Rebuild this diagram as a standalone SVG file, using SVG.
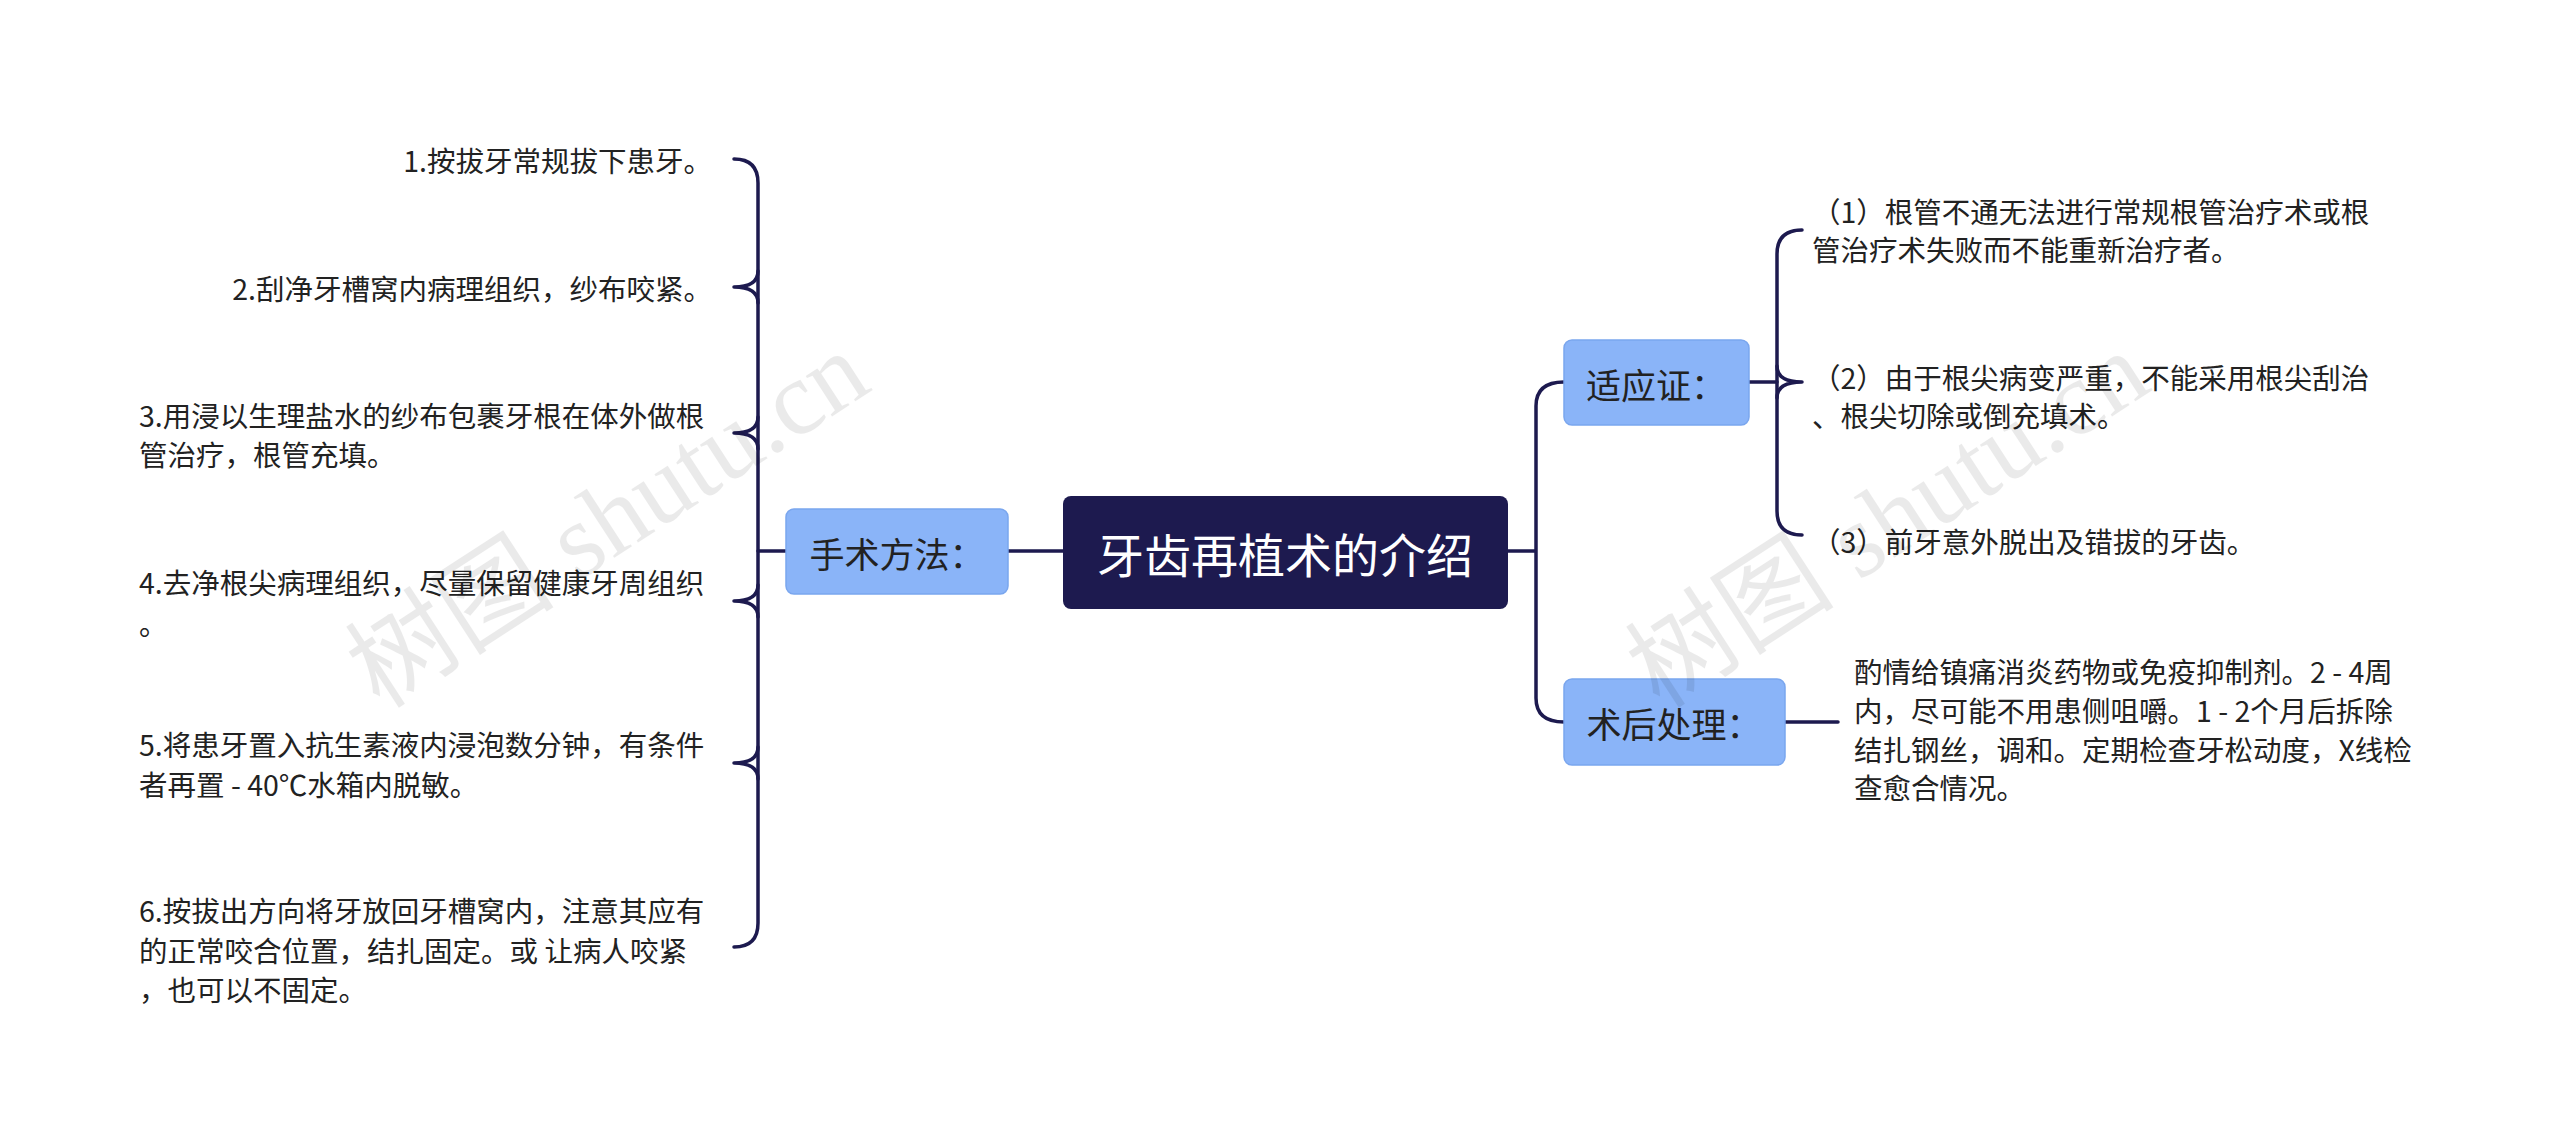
<svg xmlns="http://www.w3.org/2000/svg" width="2560" height="1136" viewBox="0 0 2560 1136">
<style>
.t{font-family:"Noto Sans CJK SC","Noto Sans",sans-serif;fill:#222;font-size:28.5px;dominant-baseline:central}
.r{text-anchor:end}
.c{fill:none;stroke:#1d1a4f;stroke-width:3.5;stroke-linecap:round}
.sub{fill:#8ab4f8;stroke:#7aa6ee;stroke-width:1.5}
.st{font-family:"Noto Sans CJK SC","Noto Sans",sans-serif;fill:#222;font-size:35px;dominant-baseline:central}
.wm{font-family:"Liberation Serif","Noto Sans CJK SC",serif;font-size:105px;fill:#000;opacity:0.08}
</style>
<rect width="2560" height="1136" fill="#fff"/>
<g id="connectors">
<path class="c" d="M1008,551 H1063"/>
<path class="c" d="M786,551 H758"/>
<path class="c" d="M734,159 Q758,159 758,183 L758,923 Q758,947 734,947"/>
<path class="c" d="M734,287 Q758,287 758,271 M734,287 Q758,287 758,303"/>
<path class="c" d="M734,433 Q758,433 758,417 M734,433 Q758,433 758,449"/>
<path class="c" d="M734,601 Q758,601 758,585 M734,601 Q758,601 758,617"/>
<path class="c" d="M734,763 Q758,763 758,747 M734,763 Q758,763 758,779"/>
<path class="c" d="M1508,551 H1536 M1536,551 L1536,406 Q1536,382 1564,382 M1536,551 L1536,698 Q1536,722 1564,722"/>
<path class="c" d="M1749,382 H1777"/>
<path class="c" d="M1802,230 Q1777,230 1777,254 L1777,511 Q1777,535 1802,535"/>
<path class="c" d="M1802,382 Q1777,382 1777,366 M1802,382 Q1777,382 1777,398"/>
<path class="c" d="M1785,722 H1838"/>
</g>
<g id="center"><rect x="1063" y="496" width="445" height="113" rx="8" fill="#1d1a4f"/>
<text x="1285" y="552" font-family="Noto Sans CJK SC,sans-serif" font-size="47" fill="#fff" text-anchor="middle" dominant-baseline="central">牙齿再植术的介绍</text></g>
<g id="n-method"><rect class="sub" x="786" y="509" width="222" height="85" rx="8"/><text class="st" x="897" y="552" text-anchor="middle">手术方法：</text></g>
<g id="n-indic"><rect class="sub" x="1564" y="340" width="185" height="85" rx="8"/><text class="st" x="1656" y="383" text-anchor="middle">适应证：</text></g>
<g id="n-post"><rect class="sub" x="1564" y="679" width="221" height="86" rx="8"/><text class="st" x="1674" y="722" text-anchor="middle">术后处理：</text></g>
<g id="left-leaves">
<text class="t r" x="712" y="159">1.按拔牙常规拔下患牙。</text>
<text class="t r" x="712" y="287">2.刮净牙槽窝内病理组织，纱布咬紧。</text>
<text class="t" x="139" y="414">3.用浸以生理盐水的纱布包裹牙根在体外做根</text>
<text class="t" x="139" y="453">管治疗，根管充填。</text>
<text class="t" x="139" y="581">4.去净根尖病理组织，尽量保留健康牙周组织</text>
<text class="t" x="139" y="622">。</text>
<text class="t" x="139" y="743">5.将患牙置入抗生素液内浸泡数分钟，有条件</text>
<text class="t" x="139" y="783">者再置 - 40℃水箱内脱敏。</text>
<text class="t" x="139" y="909">6.按拔出方向将牙放回牙槽窝内，注意其应有</text>
<text class="t" x="139" y="949">的正常咬合位置，结扎固定。或 让病人咬紧</text>
<text class="t" x="139" y="988">，也可以不固定。</text>
</g>
<g id="right-leaves">
<text class="t" x="1812" y="210">（1）根管不通无法进行常规根管治疗术或根</text>
<text class="t" x="1812" y="248">管治疗术失败而不能重新治疗者。</text>
<text class="t" x="1812" y="376">（2）由于根尖病变严重，不能采用根尖刮治</text>
<text class="t" x="1812" y="414">、根尖切除或倒充填术。</text>
<text class="t" x="1812" y="540">（3）前牙意外脱出及错拔的牙齿。</text>
<text class="t" x="1854" y="670">酌情给镇痛消炎药物或免疫抑制剂。2 - 4周</text>
<text class="t" x="1854" y="709">内，尽可能不用患侧咀嚼。1 - 2个月后拆除</text>
<text class="t" x="1854" y="748">结扎钢丝，调和。定期检查牙松动度，X线检</text>
<text class="t" x="1854" y="786">查愈合情况。</text>
</g>
<text class="wm" transform="translate(380,710) rotate(-33)">树图 shutu.cn</text>
<text class="wm" transform="translate(1660,710) rotate(-33)">树图 shutu.cn</text>
</svg>
